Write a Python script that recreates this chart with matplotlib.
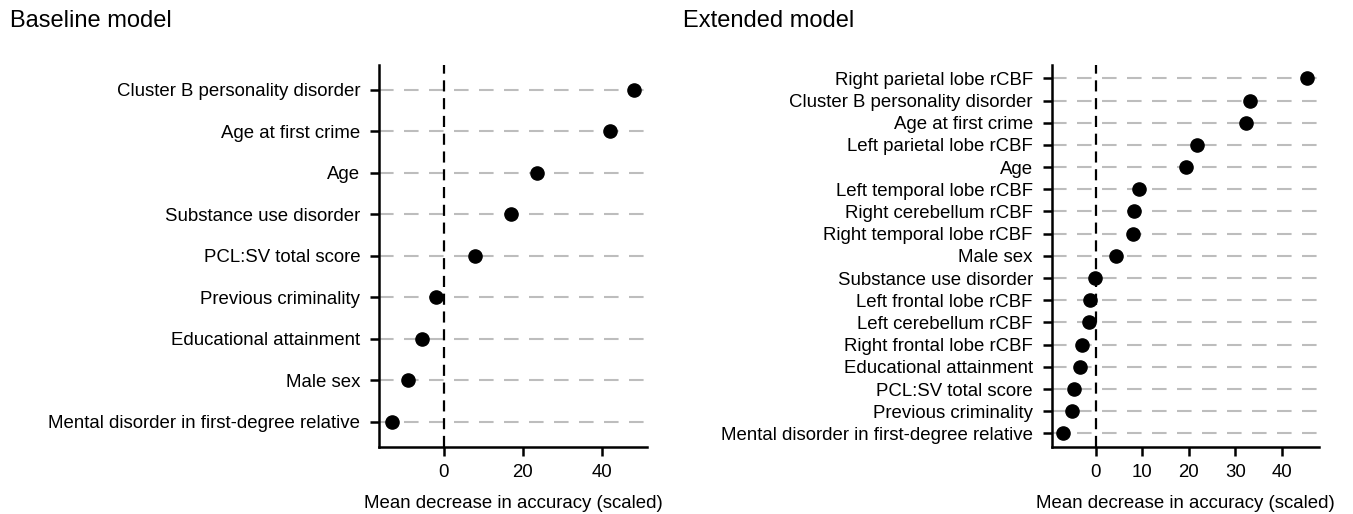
import numpy as np
import matplotlib.pyplot as plt

plt.rcParams['font.family'] = ['Liberation Sans', 'DejaVu Sans']

# top-to-bottom order as shown
base_labels = ['Cluster B personality disorder', 'Age at first crime', 'Age',
               'Substance use disorder', 'PCL:SV total score', 'Previous criminality',
               'Educational attainment', 'Male sex',
               'Mental disorder in first-degree relative']
base_values = [48.1, 42.0, 23.5, 17.0, 7.8, -1.9, -5.6, -9.0, -13.2]

ext_labels = ['Right parietal lobe rCBF', 'Cluster B personality disorder',
              'Age at first crime', 'Left parietal lobe rCBF', 'Age',
              'Left temporal lobe rCBF', 'Right cerebellum rCBF',
              'Right temporal lobe rCBF', 'Male sex', 'Substance use disorder',
              'Left frontal lobe rCBF', 'Left cerebellum rCBF',
              'Right frontal lobe rCBF', 'Educational attainment',
              'PCL:SV total score', 'Previous criminality',
              'Mental disorder in first-degree relative']
ext_values = [45.3, 33.1, 32.3, 21.7, 19.4, 9.4, 8.2, 8.0, 4.4, -0.1,
              -1.2, -1.4, -3.0, -3.4, -4.6, -5.0, -6.9]


def dot_panel(ax, labels, values, xlim, xticks):
    n = len(labels)
    y = np.arange(n)[::-1]
    for yy in y:
        ax.axhline(yy, color='#bdbdbd', lw=1.5, dashes=(7, 5), zorder=1)
    ax.axvline(0, color='black', lw=1.6, dashes=(5, 3), zorder=2)
    ax.scatter(values, y, s=90, color='black', zorder=3)
    ax.set_yticks(y)
    ax.set_yticklabels(labels, fontsize=13.4)
    ax.set_xticks(xticks)
    ax.set_xlim(*xlim)
    ax.set_ylim(-0.6, n - 1 + 0.6)
    ax.tick_params(axis='x', labelsize=13.4, length=6.5, width=1.8, pad=6)
    ax.tick_params(axis='y', length=6.5, width=1.8, pad=7)
    for s in ['top', 'right']:
        ax.spines[s].set_visible(False)
    for s in ['left', 'bottom']:
        ax.spines[s].set_linewidth(1.8)
    ax.set_xlabel('Mean decrease in accuracy (scaled)', fontsize=13.4, labelpad=10)


fig = plt.figure(figsize=(13.53, 5.14), dpi=100)
ax1 = fig.add_axes([0.2803, 0.1309, 0.1981, 0.7426])
ax2 = fig.add_axes([0.7773, 0.1309, 0.1978, 0.7426])

dot_panel(ax1, base_labels, base_values, (-16.4, 51.5), [0, 20, 40])
dot_panel(ax2, ext_labels, ext_values, (-9.4, 48.0), [0, 10, 20, 30, 40])

fig.text(10 / 1353, 1 - 21 / 514, 'Baseline model', fontsize=17, va='center', ha='left')
fig.text(683 / 1353, 1 - 21 / 514, 'Extended model', fontsize=17, va='center', ha='left')

fig.savefig('out.png', dpi=100)
